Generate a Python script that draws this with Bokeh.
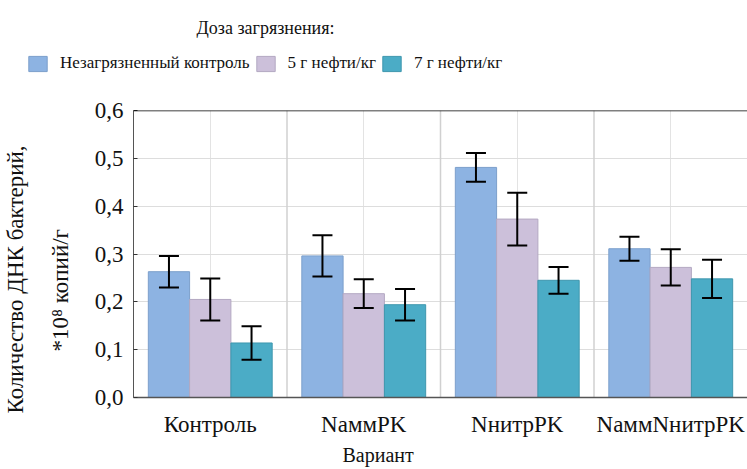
from bokeh.embed import file_html
from bokeh.resources import INLINE
from bokeh.layouts import column
from bokeh.plotting import figure
from bokeh.models import (ColumnDataSource, FactorRange, Range1d, FixedTicker,
                          Whisker, TeeHead, Legend, LegendItem, Span, Title,
                          Label, Plot)
from bokeh.transform import dodge

# --- data -------------------------------------------------------------------
categories = ["Контроль", "NаммPK", "NнитрPK", "NаммNнитрPK"]
series_names = ["Незагрязненный контроль", "5 г нефти/кг", "7 г нефти/кг"]

control = [0.263, 0.296, 0.481, 0.311]
oil_5 = [0.205, 0.217, 0.373, 0.272]
oil_7 = [0.114, 0.194, 0.245, 0.248]

err_control = [0.033, 0.043, 0.030, 0.025]
err_oil_5 = [0.044, 0.030, 0.055, 0.038]
err_oil_7 = [0.035, 0.033, 0.028, 0.040]

y_ticks = [0.0, 0.1, 0.2, 0.3, 0.4, 0.5, 0.6]
y_tick_labels = ["0,0", "0,1", "0,2", "0,3", "0,4", "0,5", "0,6"]

legend_title = "Доза загрязнения:"
x_title = "Вариант"
y_title_1 = "Количество ДНК бактерий,"
y_title_2 = "*10⁸ копий/г"

# --- styling ----------------------------------------------------------------
FONT = "Liberation Serif"
TEXT = "#111111"
colors = ["#8DB3E2", "#CCC0DA", "#4BACC6"]
outlines = ["#7C9FCB", "#B3A8C2", "#3F97AE"]
BAR_W = 0.269
offsets = [-BAR_W, 0.0, BAR_W]
STRIP_H = 90

# ---------------------------------------------------------------------------
# main chart
p = figure(width=747, height=469 - STRIP_H, x_range=FactorRange(*categories),
           y_range=Range1d(0, 0.6), title=None, toolbar_location=None,
           output_backend="svg", min_border_left=129, min_border_right=0,
           min_border_top=110 - STRIP_H, min_border_bottom=72)
p.outline_line_color = None
p.background_fill_color = "white"
p.border_fill_color = "white"

# grid, group separators and the top frame line
p.xgrid.grid_line_color = "#E3E3E3"
p.ygrid.grid_line_color = "#DDDDDD"
for loc in [1, 2, 3]:
    p.add_layout(Span(location=loc, dimension="height", line_color="#D0D0D0",
                      line_width=1.5, level="underlay"))
p.add_layout(Span(location=0.6, dimension="width", line_color="black",
                  line_width=1.5))

# axes
p.yaxis.ticker = FixedTicker(ticks=y_ticks)
p.yaxis.major_label_overrides = dict(zip(y_ticks, y_tick_labels))
p.yaxis.major_label_text_font = FONT
p.yaxis.major_label_text_font_size = "23px"
p.yaxis.major_label_text_color = TEXT
p.yaxis.major_label_standoff = 10
p.yaxis.major_tick_out = 0
p.yaxis.major_tick_in = 4
p.yaxis.major_tick_line_color = "#333333"
p.yaxis.minor_tick_line_color = None
p.yaxis.axis_line_color = "#555555"

p.xaxis.major_label_text_font = FONT
p.xaxis.major_label_text_font_size = "23px"
p.xaxis.major_label_text_color = TEXT
p.xaxis.major_label_standoff = 8
p.xaxis.major_tick_line_color = None
p.xaxis.axis_line_color = "#555555"
p.xaxis.axis_line_width = 1.5

# bars and error bars
values = [control, oil_5, oil_7]
errors = [err_control, err_oil_5, err_oil_7]
for vals, errs, off, col, oc in zip(values, errors, offsets, colors, outlines):
    src = ColumnDataSource(dict(
        cat=categories, val=vals,
        upper=[v + e for v, e in zip(vals, errs)],
        lower=[v - e for v, e in zip(vals, errs)],
    ))
    p.vbar(x=dodge("cat", off, range=p.x_range), top="val", width=BAR_W,
           source=src, fill_color=col, line_color=oc, line_width=1)
    p.add_layout(Whisker(base=dodge("cat", off, range=p.x_range),
                         upper="upper", lower="lower", source=src,
                         level="annotation",
                         line_color="black", line_width=2,
                         upper_head=TeeHead(size=20, line_color="black", line_width=2),
                         lower_head=TeeHead(size=20, line_color="black", line_width=2)))

# axis titles
p.add_layout(Title(text=x_title, align="left", offset=209, standoff=5,
                   text_font=FONT, text_font_size="20px",
                   text_font_style="normal", text_color=TEXT), "below")
p.add_layout(Title(text=y_title_2, align="left", offset=46, standoff=37,
                   text_font=FONT, text_font_size="23px",
                   text_font_style="normal", text_color=TEXT), "left")
p.add_layout(Title(text=y_title_1, align="left", offset=-16, standoff=0,
                   text_font=FONT, text_font_size="23px",
                   text_font_style="normal", text_color=TEXT), "left")

# ---------------------------------------------------------------------------
# legend strip with its heading
lg = figure(width=747, height=STRIP_H, x_range=Range1d(0, 747),
            y_range=Range1d(0, STRIP_H), title=None, toolbar_location=None,
            output_backend="svg", min_border=0)
lg.axis.visible = False
lg.grid.visible = False
lg.outline_line_color = None
lg.border_fill_color = "white"
lg.background_fill_color = "white"

# keep each plot's frame independent inside the column
if "frame_align" in Plot.properties():
    lg.frame_align = False
    p.frame_align = False

items = []
for name, col, oc in zip(series_names, colors, outlines):
    # swatch renderer: carries the colours, has nothing to draw in the strip
    swatch = lg.vbar(x=[float("nan")], top=[float("nan")], width=1,
                     fill_color=col, line_color=oc)
    items.append(LegendItem(label=name, renderers=[swatch]))

legend = Legend(items=items, orientation="horizontal",
                location=(26, STRIP_H - 73),
                glyph_width=23, glyph_height=19, label_standoff=11, spacing=4,
                padding=0, margin=0, label_text_font=FONT,
                label_text_font_size="17px", label_text_color=TEXT,
                background_fill_alpha=0, border_line_color=None)
lg.add_layout(legend, "center")
lg.add_layout(Label(x=265, y=STRIP_H - 27, x_units="screen", y_units="screen",
                    text=legend_title, text_font=FONT, text_font_size="18px",
                    text_align="center", text_baseline="middle",
                    text_color=TEXT))

layout = column(lg, p, spacing=0)
open("out.html", "w").write(file_html(layout, INLINE))
